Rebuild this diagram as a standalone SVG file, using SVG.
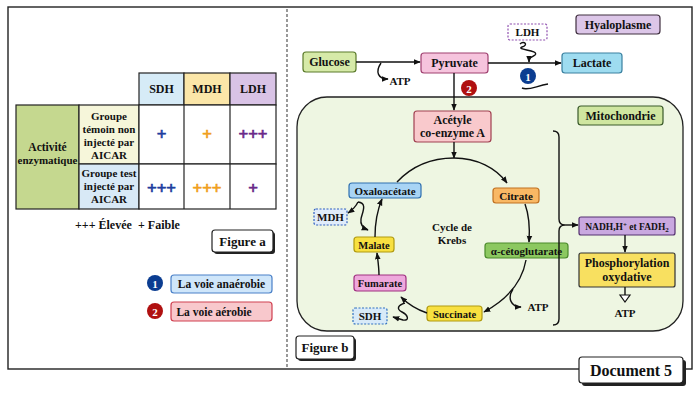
<svg xmlns="http://www.w3.org/2000/svg" width="700" height="400" viewBox="0 0 700 400">
<defs>
<marker id="ah" viewBox="0 0 10 10" refX="9" refY="5" markerWidth="7" markerHeight="7" orient="auto" markerUnits="userSpaceOnUse"><path d="M0,1 L10,5 L0,9 Z" fill="#111"/></marker>
<style>
text{font-family:"Liberation Serif","Times New Roman",serif;font-weight:bold;fill:#111;text-anchor:middle}
.c{fill:none;stroke:#111;stroke-width:1.4}
.ca{fill:none;stroke:#111;stroke-width:1.4;marker-end:url(#ah)}
.t12{font-size:12px}
.t11{font-size:11px}
.t10{font-size:10.5px}
.pl{font-size:17px;stroke-width:0.7}
.pb{fill:#1f3f9f;stroke:#1f3f9f}
.po{fill:#f0a020;stroke:#f0a020}
.pp{fill:#6a2a8a;stroke:#6a2a8a}
</style>
</defs>
<rect width="700" height="400" fill="#fff"/>
<!-- frame -->
<rect x="8" y="7" width="684" height="362" fill="none" stroke="#222" stroke-width="1.4"/>
<line x1="287" y1="9" x2="287" y2="368" stroke="#555" stroke-width="1.2" stroke-dasharray="3,2"/>

<!-- Table -->
<g id="table">
<rect x="139" y="73" width="45" height="32" fill="#d6ebf7" stroke="#222" stroke-width="1.2"/>
<rect x="184" y="73" width="46" height="32" fill="#fbe6a8" stroke="#222" stroke-width="1.2"/>
<rect x="230" y="73" width="46" height="32" fill="#d9c3e6" stroke="#222" stroke-width="1.2"/>
<text x="161.5" y="93" class="t12">SDH</text>
<text x="207" y="93" class="t12">MDH</text>
<text x="253" y="93" class="t12">LDH</text>
<rect x="16" y="105" width="63" height="104" fill="#c5d88f" stroke="#222" stroke-width="1.2"/>
<text x="47.5" y="151" style="font-size:11.5px">Activité</text>
<text x="47.5" y="164" style="font-size:11px">enzymatique</text>
<rect x="79" y="105" width="60" height="59" fill="#f6f6da" stroke="#222" stroke-width="1.2"/>
<text x="109" y="120" class="t11">Groupe</text>
<text x="109" y="133" class="t11">témoin non</text>
<text x="109" y="146" class="t11">injecté par</text>
<text x="109" y="159" class="t11">AICAR</text>
<rect x="79" y="164" width="60" height="45" fill="#d8e9f6" stroke="#222" stroke-width="1.2"/>
<text x="109" y="177" class="t11">Groupe test</text>
<text x="109" y="190" class="t11">injecté par</text>
<text x="109" y="203" class="t11">AICAR</text>
<rect x="139" y="105" width="137" height="59" fill="#fff" stroke="#222" stroke-width="1.2"/>
<rect x="139" y="164" width="137" height="45" fill="#fff" stroke="#222" stroke-width="1.2"/>
<line x1="184" y1="105" x2="184" y2="209" stroke="#222" stroke-width="1.2"/>
<line x1="230" y1="105" x2="230" y2="209" stroke="#222" stroke-width="1.2"/>
<text x="161.5" y="140" class="pl pb">+</text>
<text x="207" y="140" class="pl po">+</text>
<text x="253" y="140" class="pl pp">+++</text>
<text x="161.5" y="194" class="pl pb">+++</text>
<text x="207" y="194" class="pl po">+++</text>
<text x="253" y="194" class="pl pp">+</text>
<text x="75" y="229" class="t12" style="text-anchor:start">+++ Élevée</text>
<text x="138" y="229" class="t12" style="text-anchor:start">+ Faible</text>
</g>

<g id="figure-a">
<rect x="214" y="232" width="61" height="22" rx="3" fill="#222"/>
<rect x="212" y="230" width="61" height="22" rx="3" fill="#fff" stroke="#222" stroke-width="1.2"/>
<text x="242.5" y="246" style="font-size:13px">Figure a</text>
</g>

<g id="legend-1">
<circle cx="155" cy="283" r="8" fill="#0b3d91"/>
<text x="155" y="287.5" style="font-size:11px;fill:#fff">1</text>
<rect x="171" y="275" width="101" height="18" rx="3" fill="#cfe6fa" stroke="#4a80c8" stroke-width="1.2"/>
<text x="221.5" y="288" style="font-size:11.5px">La voie anaérobie</text>
</g>
<g id="legend-2">
<circle cx="155" cy="311" r="8" fill="#b01010"/>
<text x="155" y="315.5" style="font-size:11px;fill:#fff">2</text>
<rect x="171" y="302" width="101" height="19" rx="3" fill="#f8c8cc" stroke="#d04050" stroke-width="1.2"/>
<text x="214" y="315.5" style="font-size:11.5px">La voie aérobie</text>
</g>

<!-- Mitochondria container -->
<g id="mitochondrie-zone">
<rect x="297" y="97" width="386" height="234" rx="30" fill="#eef6e2" stroke="#222" stroke-width="1.3"/>
</g>

<g id="hyaloplasme">
<rect x="576" y="15" width="84" height="19" rx="3" fill="#dcc6e8" stroke="#403040" stroke-width="1.2"/>
<text x="618" y="28.5" class="t12">Hyaloplasme</text>
</g>
<g id="mitochondrie">
<rect x="578" y="106" width="85" height="19" rx="3" fill="#cfe6a0" stroke="#3a5a2a" stroke-width="1.2"/>
<text x="620.5" y="119.5" class="t12">Mitochondrie</text>
</g>

<g id="glucose">
<rect x="303" y="52" width="53" height="20" rx="3" fill="#d6eaa8" stroke="#5a7a2a" stroke-width="1.2"/>
<text x="329.5" y="66" class="t12">Glucose</text>
</g>
<g id="pyruvate">
<rect x="421" y="53" width="67" height="20" rx="3" fill="#f6c4dd" stroke="#a04070" stroke-width="1.2"/>
<text x="454.5" y="67" class="t12">Pyruvate</text>
</g>
<g id="lactate">
<rect x="562" y="53" width="60" height="20" rx="3" fill="#9edcf0" stroke="#3a80a0" stroke-width="1.2"/>
<text x="592" y="67" class="t12">Lactate</text>
</g>
<g id="ldh">
<rect x="508" y="24" width="39" height="16" rx="2" fill="#fff" stroke="#9050b0" stroke-width="1.2" stroke-dasharray="2,1.5"/>
<text x="527.5" y="36" class="t11">LDH</text>
</g>
<g id="marker-1">
<circle cx="528" cy="76" r="8" fill="#0b3d91"/>
<text x="528" y="80.5" style="font-size:11px;fill:#fff">1</text>
</g>
<g id="marker-2">
<circle cx="469" cy="88" r="8" fill="#b01010"/>
<text x="469" y="92.5" style="font-size:11px;fill:#fff">2</text>
</g>
<g id="acetyl">
<rect x="414" y="111" width="77" height="31" rx="3" fill="#f9c9cc" stroke="#a04050" stroke-width="1.2"/>
<text x="452.5" y="124" class="t12">Acétyle</text>
<text x="452.5" y="137" class="t12">co-enzyme A</text>
</g>
<g id="oxaloacetate">
<rect x="349" y="183" width="72" height="15" rx="3" fill="#a8d4f5" stroke="#3070b0" stroke-width="1.2"/>
<text x="385" y="194.5" class="t11">Oxaloacétate</text>
</g>
<g id="citrate">
<rect x="493" y="188" width="46" height="15" rx="3" fill="#f9b864" stroke="#c07020" stroke-width="1.2"/>
<text x="516" y="199.5" class="t11">Citrate</text>
</g>
<g id="cetoglutarate">
<rect x="485" y="243" width="83" height="15" rx="3" fill="#8cc860" stroke="#4a8a2a" stroke-width="1.2"/>
<text x="526.5" y="254.5" class="t11">α-cétoglutarate</text>
</g>
<g id="malate">
<rect x="354" y="237" width="40" height="15" rx="3" fill="#f8e040" stroke="#b09a10" stroke-width="1.2"/>
<text x="374" y="248.5" class="t10">Malate</text>
</g>
<g id="fumarate">
<rect x="354" y="275" width="52" height="16" rx="3" fill="#eea8dc" stroke="#a03080" stroke-width="1.2"/>
<text x="380" y="287" class="t10">Fumarate</text>
</g>
<g id="succinate">
<rect x="427" y="306" width="55" height="15" rx="3" fill="#f8e040" stroke="#b09a10" stroke-width="1.2"/>
<text x="454.5" y="317.5" class="t10">Succinate</text>
</g>
<g id="mdh">
<rect x="314" y="209" width="33" height="16" rx="2" fill="#e0ecfa" stroke="#3060c0" stroke-width="1.2" stroke-dasharray="2,1.5"/>
<text x="330.5" y="221" class="t11">MDH</text>
</g>
<g id="sdh">
<rect x="353" y="308" width="34" height="16" rx="2" fill="#d8eaf8" stroke="#3070c0" stroke-width="1.2" stroke-dasharray="2,1.5"/>
<text x="370" y="320" class="t11">SDH</text>
</g>
<g id="krebs-label">
<text x="452" y="231" class="t11">Cycle de</text>
<text x="452" y="244" class="t11">Krebs</text>
</g>
<g id="nadh">
<rect x="579" y="217" width="96" height="18" rx="2" fill="#c9a8e0" stroke="#553070" stroke-width="1.2"/>
<text x="627" y="229.5" style="font-size:9.5px">NADH,H<tspan dy="-3" style="font-size:7px">+</tspan><tspan dy="3"> et FADH</tspan><tspan dy="2" style="font-size:7px">2</tspan></text>
</g>
<g id="phosphorylation">
<rect x="579" y="253" width="96" height="34" rx="2" fill="#f8e060" stroke="#333" stroke-width="1.2"/>
<text x="627" y="267" class="t12">Phosphorylation</text>
<text x="627" y="281" class="t12">oxydative</text>
</g>
<g id="atp-labels">
<text x="400" y="85" class="t11">ATP</text>
<text x="538" y="311" class="t11">ATP</text>
<text x="625" y="317" class="t11">ATP</text>
</g>

<g id="figure-b">
<rect x="298" y="338" width="58" height="23" rx="3" fill="#222"/>
<rect x="296" y="336" width="58" height="23" rx="3" fill="#fff" stroke="#222" stroke-width="1.2"/>
<text x="325" y="352" style="font-size:13px">Figure b</text>
</g>
<g id="document-5">
<rect x="582" y="360" width="104" height="26" rx="3" fill="#222"/>
<rect x="579" y="357" width="104" height="26" rx="3" fill="#fff" stroke="#222" stroke-width="1.2"/>
<text x="631" y="375.5" style="font-size:16px">Document 5</text>
</g>

<g id="connectors">
<path class="ca" d="M356,62 L420,62"/>
<path class="ca" d="M381,63 C375,72 378,79 388,79"/>
<path class="ca" d="M488,63 L561,63"/>
<path class="ca" d="M520,44 C524,40 529,45 522,47 C515,50 540,50 535,55 C531,58 529,57 529,62"/>
<path class="c" d="M522,88 C528,91 536,86 548,84"/>
<path class="ca" d="M454,73 L454,110"/>
<path class="ca" d="M454,142 L454,158"/>
<path class="ca" d="M397,182 C412,166 432,158 454,158 C477,158 496,168 507,183"/>
<path class="ca" d="M525,204 C529,215 530,228 529,242"/>
<path class="ca" d="M526,260 C522,283 506,300 484,312"/>
<path class="ca" d="M513,289 C507,298 511,307 521,307"/>
<path class="ca" d="M427,313 C418,310 409,305 401,297"/>
<path class="ca" d="M405,303 C398,305 396,309 402,312 C408,315 410,321 403,320 L393,317"/>
<path class="ca" d="M379,275 C379,268 378,261 377,253"/>
<path class="ca" d="M375,237 C375,224 377,211 382,199"/>
<path class="ca" d="M358,202 C356,206 354,209 348,213"/>
<path class="ca" d="M358,202 C368,203 362,213 361,219 C360,225 363,228 368,230"/>
<path class="c" d="M553,131 Q559,131 559,137 L559,219 Q559,225 565,225 Q559,225 559,231 L559,319 Q559,325 553,325"/>
<path class="ca" d="M565,225 L578,225"/>
<path class="ca" d="M625,235 L625,252"/>
<path class="c" d="M625,287 L625,295"/>
<polygon points="620,295 630,295 625,302" fill="#fff" stroke="#111" stroke-width="1.2"/>
</g>
</svg>
